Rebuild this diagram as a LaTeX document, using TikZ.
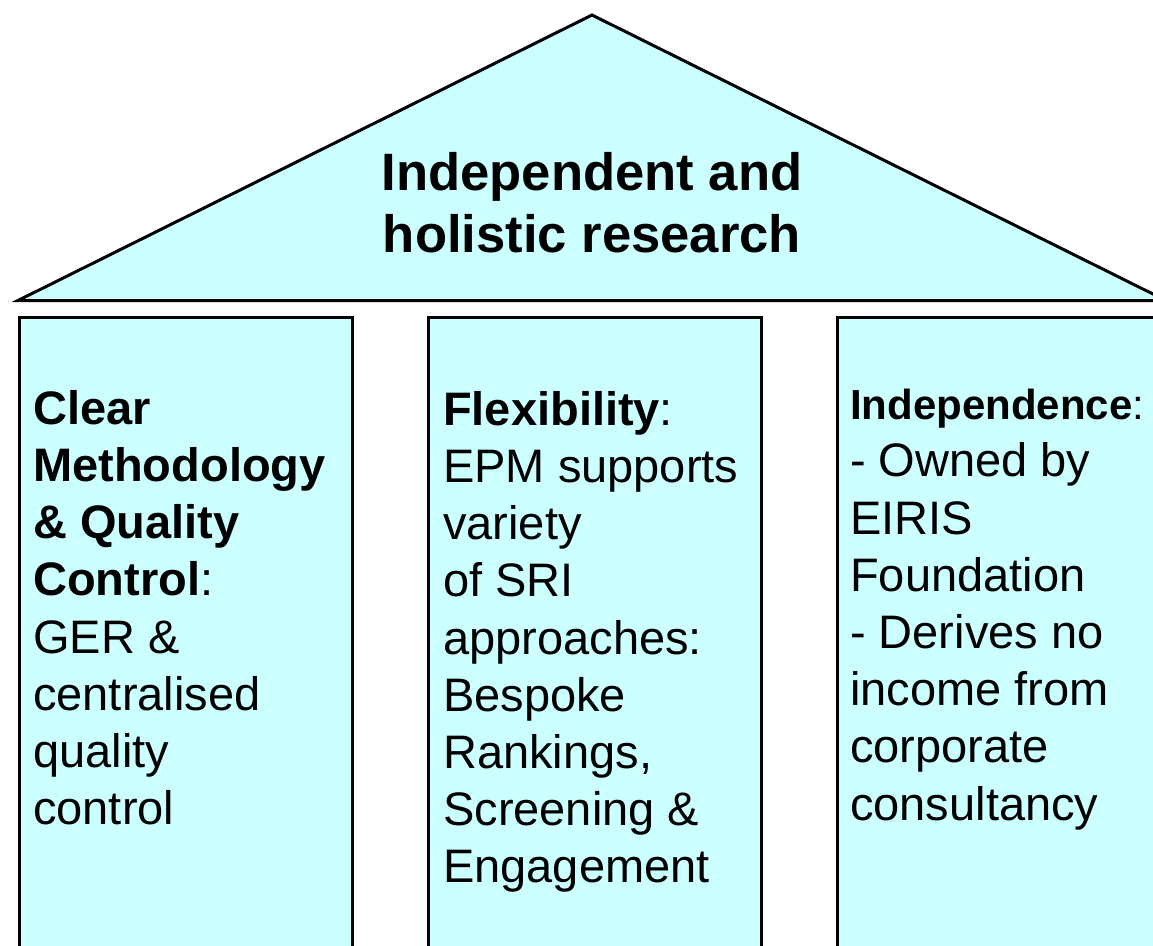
\documentclass[tikz,border=0pt]{standalone}
\usepackage{fontspec}
\setmainfont{Liberation Sans}
\usetikzlibrary{positioning}
\definecolor{roofcyan}{HTML}{CCFFFF}
\tikzstyle{roof} = [draw=black, line width=3pt, fill=roofcyan, line join=miter]
\tikzstyle{pillar} = [rectangle, draw=black, line width=3pt, fill=roofcyan, minimum width=333pt, minimum height=700pt, inner sep=0pt, anchor=north west]
\tikzstyle{pillartext} = [align=left, inner sep=0pt, font=\fontsize{47}{57.2}\selectfont]
\tikzstyle{rooftext} = [align=center, inner sep=0pt, font=\bfseries\fontsize{52.6}{62}\selectfont]
\newcommand{\smallhead}[1]{{\fontsize{42}{57.2}\selectfont\textbf{#1}:}}

\begin{document}
\begin{tikzpicture}[x=1pt, y=-1pt]

  \useasboundingbox (0,0) rectangle (1153,945);
  \clip (0,0) rectangle (1153,945);

  % Roof
  \draw[roof] (18,300.5) -- (592,15) -- (1166,300.5) -- cycle;
  \node (roofcaption) at (592,152) [rooftext, anchor=north] {Independent and\\holistic research};

  % Pillars
  \node (methodpillar) at (18,316) [pillar] {};
  \node (flexpillar) at (427,316) [pillar] {};
  \node (indeppillar) at (836,316) [pillar] {};

  % Pillar texts
  \node (methodtext) [pillartext, below right=74pt and 15pt of methodpillar.north west]
    {\textbf{Clear}\\\textbf{Methodology}\\\textbf{\& Quality}\\\textbf{Control}:\\GER \&\\centralised\\quality\\control};
  \node (flextext) [pillartext, below right=75pt and 16pt of flexpillar.north west]
    {\textbf{Flexibility}:\\EPM supports\\variety\\of SRI\\approaches:\\Bespoke\\Rankings,\\Screening \&\\Engagement};
  \node (indeptext) [pillartext, below right=73pt and 14pt of indeppillar.north west]
    {\smallhead{Independence}\\- Owned by\\EIRIS\\Foundation\\- Derives no\\income from\\corporate\\consultancy};

\end{tikzpicture}
\end{document}
